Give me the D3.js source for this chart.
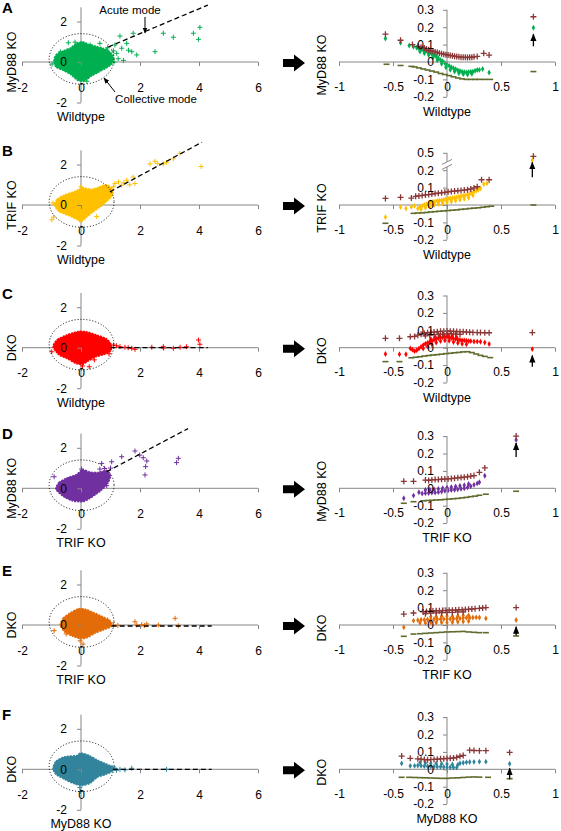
<!DOCTYPE html>
<html><head><meta charset="utf-8">
<script src="https://cdn.jsdelivr.net/npm/d3@7"></script>
<style>body{margin:0;background:#fff}text{font-family:"Liberation Sans",Arial,sans-serif}</style>
</head><body>
<script>
// ---------- labels ----------
const panelLetters = ["A","B","C","D","E","F"];
const leftXLabels = ["Wildtype","Wildtype","Wildtype","TRIF KO","TRIF KO","MyD88 KO"];
const yLabels = ["MyD88 KO","TRIF KO","DKO","MyD88 KO","DKO","DKO"];
const seriesColors = ["#00B050","#FFC000","#FF0000","#7030A0","#E36C09","#31849B"];
const upperColor = "#8B3636", lowerColor = "#5E6B2C";
const leftXTicks = [-2,0,2,4,6], leftYTicks = [-2,0,2];
const rightXTicks = [-1,-0.5,0,0.5,1];
const rightYTicks = [-0.2,-0.1,0,0.1,0.2,0.3];
const rightYTicksB = [-0.2,-0.1,0,0.1,0.2,0.5];

// ---------- left panels: dense core outline + individual outliers ----------
const blobA = [[-0.92,0.05],[-0.85,0.35],[-0.6,0.55],[-0.35,0.7],[-0.15,0.92],[0.05,1.0],[0.25,0.88],[0.5,0.78],[0.75,0.68],[0.98,0.5],[1.1,0.2],[1.05,-0.1],[0.85,-0.3],[0.6,-0.5],[0.35,-0.7],[0.1,-0.95],[-0.12,-0.9],[-0.35,-0.62],[-0.6,-0.42],[-0.85,-0.25]];
const blobB = [[-0.9,0.0],[-0.8,0.3],[-0.55,0.5],[-0.2,0.68],[0.05,0.85],[0.35,0.78],[0.6,0.88],[0.85,1.0],[1.08,0.8],[1.05,0.45],[0.85,0.15],[0.65,-0.1],[0.4,-0.35],[0.18,-0.62],[0.0,-0.82],[-0.18,-0.68],[-0.45,-0.5],[-0.75,-0.32]];
const blobC = [[-0.95,0.05],[-0.8,0.4],[-0.5,0.62],[-0.1,0.8],[0.2,0.78],[0.55,0.62],[0.85,0.45],[1.03,0.15],[1.0,-0.18],[0.75,-0.35],[0.5,-0.45],[0.22,-0.68],[0.05,-0.82],[-0.18,-0.78],[-0.45,-0.55],[-0.75,-0.35]];
const blobD = [[-0.85,-0.05],[-0.75,0.28],[-0.5,0.5],[-0.15,0.68],[0.05,0.92],[0.3,0.8],[0.55,0.78],[0.88,0.88],[1.0,0.6],[0.9,0.22],[0.7,-0.08],[0.5,-0.3],[0.28,-0.52],[0.05,-0.66],[-0.28,-0.62],[-0.6,-0.4]];
const blobE = [[-0.7,0.0],[-0.6,0.35],[-0.38,0.58],[-0.1,0.8],[0.15,0.78],[0.42,0.62],[0.75,0.4],[1.0,0.18],[1.03,-0.08],[0.75,-0.25],[0.48,-0.4],[0.22,-0.62],[0.0,-0.68],[-0.28,-0.56],[-0.55,-0.35]];
const blobF = [[-0.95,0.05],[-0.85,0.4],[-0.55,0.62],[-0.15,0.68],[0.0,0.8],[0.28,0.68],[0.55,0.46],[0.8,0.3],[1.05,0.14],[1.1,-0.06],[0.85,-0.25],[0.55,-0.4],[0.32,-0.68],[0.05,-0.8],[-0.22,-0.72],[-0.55,-0.5],[-0.85,-0.25]];

const outA = [[-0.43,0.95],[0.31,0.84],[0.87,0.59],[1.15,0.84],[1.21,0.43],[1.38,0.68],[1.55,0.92],[1.72,0.51],[1.77,1.42],[1.89,0.35],[2.51,0.51],[2.79,1.42],[3.13,1.22],[3.81,1.42],[3.98,1.12],[4.03,1.71],[1.32,1.28],[0.64,0.92],[1.04,0.33],[1.26,0.16],[1.44,0.08],[1.61,0.58],[-0.98,-0.1],[0.9,0.7],[1.1,0.55],[-0.7,0.5],[0.2,-0.95],[-0.2,0.98],[1.12,0.0]];
const outB = [[-0.99,-0.73],[-0.93,-0.6],[1.15,1.06],[1.27,1.14],[1.38,0.98],[1.77,1.38],[1.83,1.06],[1.55,1.22],[2.34,2.03],[2.51,2.16],[2.79,2.03],[2.9,2.11],[3.13,2.28],[3.35,2.55],[4.07,1.9],[0.53,-0.57],[1.1,0.9],[1.45,1.1],[1.65,1.0],[2.6,2.05],[-0.95,0.1],[0.0,0.9]];
const outC = [[-0.99,-0.2],[1.1,0.13],[1.32,0.05],[1.49,0.02],[1.72,-0.03],[1.83,-0.08],[2.4,0.02],[2.79,0.05],[3.13,-0.03],[3.36,0.02],[3.58,0.05],[3.98,0.38],[4.03,0.17],[0.0,-0.5],[0.28,-0.94],[1.2,0.1],[1.6,0.0],[2.8,-0.02],[0.05,-0.9],[0.45,-0.6],[0.95,-0.3]];
const outD = [[-0.91,0.57],[0.02,0.95],[0.7,1.23],[1.04,1.31],[0.64,0.95],[0.87,0.13],[1.38,1.56],[1.83,1.84],[1.99,1.64],[2.11,1.51],[2.23,1.35],[2.19,1.07],[2.17,0.66],[3.24,1.27],[3.3,1.48],[0.8,0.98],[1.0,1.0],[0.75,0.4]];
const outE = [[-0.91,-0.28],[-0.5,-0.44],[-0.03,-0.78],[0.07,-0.94],[1.1,0.0],[1.25,-0.02],[1.83,0.16],[1.89,0.0],[2.06,0.02],[2.15,-0.03],[2.23,0.05],[2.62,0.0],[3.19,0.33],[3.3,-0.04],[1.0,0.1],[0.9,0.25]];
const outF = [[1.15,0.05],[1.32,0.0],[1.49,-0.03],[1.72,0.05],[2.9,0.0],[-0.02,-1.1],[-0.04,-0.9],[1.05,0.1],[1.2,-0.05],[0.7,0.2]];

const dashA = [[0.92,0.74],[4.3,2.81]];
const dashB = [[0.98,0.65],[4.1,3.1]];
const dashC = [[1.0,0.0],[4.3,0.0]];
const dashD = [[0.87,0.82],[3.63,2.95]];
const dashE = [[1.04,-0.05],[4.43,-0.05]];
const dashF = [[1.08,0.0],[4.43,0.0]];

// ---------- right panels: three series each ----------
const upperA = [[-0.57,0.16],[-0.43,0.125],[-0.32,0.1],[-0.27,0.09],[-0.24,0.085],[-0.21,0.08],[-0.19,0.075],[-0.17,0.07],[-0.15,0.065],[-0.13,0.062],[-0.11,0.058],[-0.09,0.055],[-0.07,0.05],[-0.05,0.048],[-0.03,0.045],[-0.01,0.042],[0.01,0.04],[0.03,0.038],[0.05,0.036],[0.07,0.033],[0.09,0.031],[0.11,0.03],[0.13,0.028],[0.15,0.027],[0.17,0.027],[0.19,0.026],[0.21,0.028],[0.23,0.027],[0.25,0.03],[0.28,0.032],[0.34,0.05],[0.39,0.04],[0.8,0.26]];
const midA = [[-0.57,0.135],[-0.43,0.11],[-0.35,0.095],[-0.31,0.088],[-0.28,0.082],[-0.26,0.078],[-0.24,0.074],[-0.22,0.068],[-0.2,0.062],[-0.18,0.058],[-0.16,0.052],[-0.14,0.046],[-0.12,0.04],[-0.1,0.032],[-0.08,0.022],[-0.06,0.012],[-0.04,0.004],[-0.02,-0.006],[0,-0.014],[0.02,-0.022],[0.04,-0.03],[0.06,-0.036],[0.08,-0.042],[0.1,-0.048],[0.12,-0.052],[0.14,-0.056],[0.16,-0.058],[0.18,-0.06],[0.2,-0.058],[0.22,-0.056],[0.24,-0.055],[0.26,-0.05],[0.28,-0.046],[0.3,-0.045],[0.33,-0.04],[0.39,-0.06],
  [-0.25,0.06],[-0.21,0.05],[-0.17,0.04],[-0.13,0.025],[-0.09,0.01],[-0.05,-0.01],[-0.01,-0.03],[0.03,-0.045],[0.07,-0.055],[0.11,-0.065],[0.15,-0.07],[0.19,-0.072],[0.23,-0.068],[0.8,0.197]];
const lowerA = [[-0.56,-0.013],[-0.43,-0.02],[-0.33,-0.025],[-0.3,-0.028],[-0.26,-0.034],[-0.22,-0.04],[-0.18,-0.046],[-0.14,-0.052],[-0.1,-0.058],[-0.06,-0.066],[-0.02,-0.072],[0.02,-0.078],[0.06,-0.085],[0.1,-0.092],[0.14,-0.097],[0.18,-0.1],[0.22,-0.1],[0.26,-0.1],[0.3,-0.1],[0.35,-0.1],[0.4,-0.1],[0.8,-0.055]];

const upperB = [[-0.57,0.038],[-0.43,0.044],[-0.33,0.04],[-0.29,0.05],[-0.26,0.052],[-0.23,0.055],[-0.2,0.058],[-0.17,0.06],[-0.14,0.063],[-0.11,0.066],[-0.08,0.068],[-0.05,0.07],[-0.02,0.073],[0.01,0.076],[0.04,0.078],[0.07,0.08],[0.1,0.082],[0.13,0.084],[0.16,0.086],[0.19,0.088],[0.22,0.092],[0.25,0.098],[0.28,0.105],[0.32,0.145],[0.39,0.145],[0.8,0.44]];
const midB = [[-0.57,-0.07],[-0.43,-0.012],[-0.38,-0.02],[-0.33,-0.01],[-0.3,-0.005],[-0.27,-0.02],[-0.25,-0.01],[-0.23,-0.005],[-0.21,0.0],[-0.19,0.004],[-0.17,0.01],[-0.15,0.014],[-0.13,0.018],[-0.11,0.02],[-0.09,0.024],[-0.07,0.026],[-0.05,0.028],[-0.03,0.03],[-0.01,0.033],[0.01,0.036],[0.03,0.038],[0.05,0.04],[0.07,0.042],[0.09,0.045],[0.11,0.048],[0.13,0.05],[0.15,0.053],[0.17,0.056],[0.19,0.06],[0.21,0.064],[0.23,0.07],[0.25,0.076],[0.27,0.082],[0.29,0.088],[0.31,0.095],[0.34,0.12],[0.37,0.125],
  [-0.24,-0.025],[-0.2,-0.016],[-0.16,-0.008],[-0.12,0.0],[-0.08,0.006],[-0.04,0.01],[0.0,0.015],[0.04,0.02],[0.08,0.025],[0.12,0.03],[0.16,0.035],[0.2,0.042],[0.24,0.055],[0.79,0.37]];
const lowerB = [[-0.57,-0.105],[-0.31,-0.048],[-0.27,-0.046],[-0.23,-0.045],[-0.19,-0.043],[-0.15,-0.04],[-0.11,-0.038],[-0.07,-0.036],[-0.03,-0.034],[0.01,-0.032],[0.05,-0.03],[0.09,-0.028],[0.13,-0.025],[0.17,-0.023],[0.21,-0.02],[0.25,-0.018],[0.29,-0.016],[0.33,-0.013],[0.37,-0.01],[0.41,-0.007],[0.8,0.0]];

const upperC = [[-0.57,0.054],[-0.44,0.054],[-0.34,0.063],[-0.3,0.065],[-0.27,0.072],[-0.24,0.078],[-0.21,0.082],[-0.18,0.086],[-0.15,0.088],[-0.12,0.09],[-0.09,0.092],[-0.06,0.094],[-0.03,0.095],[0.0,0.096],[0.03,0.095],[0.06,0.094],[0.09,0.093],[0.12,0.092],[0.15,0.091],[0.18,0.09],[0.21,0.089],[0.24,0.088],[0.28,0.087],[0.31,0.087],[0.35,0.086],[0.39,0.086],
  [-0.2,0.068],[-0.16,0.072],[-0.12,0.075],[-0.08,0.077],[-0.04,0.078],[0.0,0.08],[0.04,0.08],[0.08,0.078],[0.12,0.077],[0.79,0.087]];
const midC = [[-0.57,-0.036],[-0.44,-0.038],[-0.38,-0.038],[-0.34,-0.004],[-0.32,-0.012],[-0.3,-0.02],[-0.28,-0.015],[-0.26,-0.005],[-0.24,0.005],[-0.22,0.015],[-0.2,0.022],[-0.18,0.028],[-0.16,0.034],[-0.14,0.04],[-0.12,0.046],[-0.1,0.05],[-0.08,0.054],[-0.06,0.058],[-0.04,0.06],[-0.02,0.062],[0,0.063],[0.02,0.06],[0.04,0.056],[0.06,0.052],[0.08,0.05],[0.1,0.046],[0.12,0.044],[0.14,0.042],[0.16,0.042],[0.18,0.04],[0.2,0.038],[0.22,0.038],[0.25,0.036],[0.28,0.035],[0.31,0.034],[0.35,0.03],[0.39,0.021],
  [-0.22,-0.005],[-0.18,0.008],[-0.14,0.02],[-0.1,0.03],[-0.06,0.038],[-0.02,0.042],[0.02,0.04],[0.06,0.033],[0.1,0.027],[0.14,0.022],[0.18,0.02],
  [-0.15,0.05],[-0.11,0.06],[-0.07,0.068],[-0.03,0.075],[0.01,0.074],[0.05,0.068],[0.09,0.06],[0.79,-0.008]];
const lowerC = [[-0.57,-0.08],[-0.44,-0.08],[-0.33,-0.058],[-0.29,-0.055],[-0.25,-0.052],[-0.21,-0.048],[-0.17,-0.045],[-0.13,-0.042],[-0.09,-0.04],[-0.05,-0.037],[-0.01,-0.034],[0.03,-0.032],[0.07,-0.029],[0.11,-0.027],[0.15,-0.024],[0.19,-0.023],[0.23,-0.028],[0.27,-0.036],[0.31,-0.044],[0.35,-0.05],[0.4,-0.057]];

const upperD = [[-0.4,0.04],[-0.31,0.04],[-0.2,0.047],[-0.17,0.045],[-0.14,0.048],[-0.11,0.05],[-0.08,0.05],[-0.05,0.052],[-0.02,0.053],[0.01,0.054],[0.04,0.056],[0.07,0.058],[0.1,0.06],[0.13,0.062],[0.16,0.064],[0.19,0.066],[0.22,0.07],[0.25,0.073],[0.3,0.092],[0.35,0.117],[0.64,0.3]];
const midD = [[-0.4,-0.057],[-0.31,-0.042],[-0.26,-0.023],[-0.23,-0.03],[-0.2,-0.028],[-0.17,-0.027],[-0.14,-0.025],[-0.11,-0.024],[-0.08,-0.022],[-0.05,-0.018],[-0.02,-0.014],[0.01,-0.012],[0.04,-0.01],[0.07,-0.008],[0.1,-0.006],[0.13,-0.003],[0.16,0.0],[0.19,0.005],[0.22,0.012],[0.25,0.02],[0.28,0.028],[0.3,0.035],[0.35,0.072],
  [-0.2,-0.01],[-0.16,-0.008],[-0.12,-0.006],[-0.08,-0.004],[-0.04,0.0],[0.0,0.004],[0.04,0.007],[0.08,0.01],[0.12,0.014],[0.16,0.018],[0.2,0.025],[0.64,0.278]];
const lowerD = [[-0.4,-0.086],[-0.31,-0.077],[-0.22,-0.072],[-0.18,-0.07],[-0.14,-0.069],[-0.1,-0.067],[-0.06,-0.066],[-0.02,-0.064],[0.02,-0.062],[0.06,-0.06],[0.1,-0.058],[0.14,-0.055],[0.18,-0.052],[0.22,-0.048],[0.26,-0.045],[0.3,-0.04],[0.36,-0.034],[0.64,-0.017]];

const upperE = [[-0.4,0.063],[-0.31,0.069],[-0.22,0.075],[-0.19,0.077],[-0.16,0.08],[-0.13,0.08],[-0.1,0.082],[-0.07,0.082],[-0.04,0.083],[-0.01,0.084],[0.02,0.085],[0.05,0.085],[0.08,0.086],[0.11,0.087],[0.14,0.088],[0.17,0.089],[0.2,0.09],[0.23,0.092],[0.26,0.094],[0.3,0.096],[0.33,0.098],[0.36,0.1],
  [-0.2,0.065],[-0.15,0.068],[-0.1,0.07],[-0.05,0.071],[0.0,0.072],[0.05,0.073],[0.1,0.075],[0.15,0.076],[0.64,0.1]];
const midE = [[-0.4,-0.013],[-0.31,0.025],[-0.27,0.028],[-0.24,0.03],[-0.21,0.03],[-0.18,0.032],[-0.15,0.032],[-0.12,0.033],[-0.09,0.033],[-0.06,0.034],[-0.03,0.034],[0,0.035],[0.03,0.035],[0.06,0.036],[0.09,0.037],[0.12,0.038],[0.15,0.04],[0.18,0.041],[0.21,0.042],[0.24,0.043],[0.27,0.044],[0.3,0.043],[0.36,0.038],
  [-0.25,0.012],[-0.2,0.012],[-0.15,0.014],[-0.1,0.014],[-0.05,0.015],[0.0,0.015],[0.05,0.016],[0.1,0.018],[0.15,0.02],[0.2,0.022],
  [-0.15,0.047],[-0.1,0.048],[-0.05,0.05],[0.0,0.05],[0.05,0.05],[0.1,0.052],[0.15,0.054],[0.2,0.055],[0.64,0.029]];
const lowerE = [[-0.4,-0.065],[-0.31,-0.052],[-0.25,-0.05],[-0.2,-0.048],[-0.15,-0.046],[-0.1,-0.044],[-0.05,-0.042],[0,-0.04],[0.05,-0.039],[0.1,-0.038],[0.15,-0.037],[0.2,-0.04],[0.25,-0.042],[0.3,-0.044],[0.36,-0.044],[0.64,-0.063]];

const upperF = [[-0.42,0.076],[-0.34,0.063],[-0.27,0.06],[-0.24,0.058],[-0.21,0.056],[-0.18,0.055],[-0.15,0.056],[-0.12,0.057],[-0.09,0.058],[-0.06,0.06],[-0.03,0.061],[0,0.062],[0.03,0.063],[0.06,0.065],[0.09,0.068],[0.12,0.075],[0.15,0.08],[0.21,0.11],[0.25,0.108],[0.3,0.107],[0.36,0.107],[0.58,0.097]];
const midF = [[-0.42,0.034],[-0.34,0.02],[-0.3,0.02],[-0.27,0.022],[-0.24,0.02],[-0.21,0.018],[-0.18,0.018],[-0.15,0.016],[-0.12,0.015],[-0.09,0.015],[-0.06,0.014],[-0.03,0.013],[0,0.012],[0.03,0.012],[0.06,0.01],[0.09,0.01],[0.12,0.035],[0.15,0.038],[0.18,0.04],[0.21,0.042],[0.25,0.043],[0.3,0.044],[0.36,0.044],
  [-0.25,0.038],[-0.2,0.036],[-0.15,0.034],[-0.1,0.033],[-0.05,0.032],[0.0,0.03],[0.05,0.028],[0.1,0.026],[0.58,0.032]];
const lowerF = [[-0.42,-0.046],[-0.35,-0.046],[-0.3,-0.047],[-0.25,-0.048],[-0.2,-0.049],[-0.15,-0.05],[-0.1,-0.051],[-0.05,-0.052],[0,-0.052],[0.05,-0.05],[0.1,-0.049],[0.15,-0.047],[0.2,-0.045],[0.25,-0.044],[0.3,-0.045],[0.38,-0.046],[0.58,-0.054]];

// arrows marking the outlier gene: [x, fromY, toY]
const markArrows = [[0.8,0.09,0.16],[0.79,0.16,0.335],[0.79,-0.11,-0.045],[0.64,0.18,0.26],[0.64,-0.06,-0.01],[0.58,-0.058,0.006]];

const blobs = [blobA,blobB,blobC,blobD,blobE,blobF];
const outs = [outA,outB,outC,outD,outE,outF];
const dashes = [dashA,dashB,dashC,dashD,dashE,dashF];
const uppers = [upperA,upperB,upperC,upperD,upperE,upperF];
const mids = [midA,midB,midC,midD,midE,midF];
const lowers = [lowerA,lowerB,lowerC,lowerD,lowerE,lowerF];

// ---------- layout ----------
const W = 561, H = 831;
const rowBase = [62,205,347.7,488.3,625,769.3];
const axisColor = "#868686";
const svg = d3.select("body").append("svg").attr("width",W).attr("height",H);
const defs = svg.append("defs");
defs.append("marker").attr("id","ah").attr("viewBox","0 0 10 10").attr("refX",9).attr("refY",5)
  .attr("markerWidth",6).attr("markerHeight",6).attr("orient","auto-start-reverse")
  .append("path").attr("d","M0,1L10,5L0,9z").attr("fill","#000");

const xL = d3.scaleLinear().domain([-2,6]).range([22,258]);
const xR = d3.scaleLinear().domain([-1,1]).range([339,555]);
const plus = s => `M${-s},0H${s}M0,${-s}V${s}`;

rowBase.forEach((b,i) => {
  const yL = d3.scaleLinear().domain([-2,2]).range([b+40.5,b-40.5]);
  const yR = i===1
    ? d3.scaleLinear().domain([-0.2,0.2,0.5]).range([b+34.8,b-34.8,b-52.2])
    : d3.scaleLinear().domain([-0.2,0.3]).range([b+34.8,b-52.2]);
  const col = seriesColors[i];
  const g = svg.append("g");

  // ----- left panel -----
  g.append("text").attr("x",2).attr("y",b-49).attr("font-size",15).attr("font-weight","bold").text(panelLetters[i]);
  g.append("line").attr("x1",xL(-2)).attr("x2",xL(6)).attr("y1",yL(0)).attr("y2",yL(0)).attr("stroke",axisColor);
  g.append("line").attr("x1",xL(0)).attr("x2",xL(0)).attr("y1",yL(-2)).attr("y2",yL(2.7)).attr("stroke",axisColor);
  g.append("path").datum(blobs[i]).attr("d",d3.line().x(d=>xL(d[0])).y(d=>yL(d[1])).curve(d3.curveCardinalClosed.tension(0.3)))
    .attr("fill",col).attr("stroke",col).attr("stroke-width",1.5).attr("stroke-dasharray","2,1");
  g.selectAll(".o").data(outs[i]).join("path").attr("transform",d=>`translate(${xL(d[0])},${yL(d[1])})`)
    .attr("d",plus(2.5)).attr("stroke",col).attr("stroke-width",1).attr("fill","none");
  g.append("ellipse").attr("cx",xL(0.02)).attr("cy",yL(0.15)).attr("rx",xL(1.1)-xL(0)).attr("ry",yL(0)-yL(1.25))
    .attr("fill","none").attr("stroke","#000").attr("stroke-width",1).attr("stroke-dasharray","1,2");
  g.append("path").datum(dashes[i]).attr("d",d3.line().x(d=>xL(d[0])).y(d=>yL(d[1])))
    .attr("stroke","#000").attr("stroke-width",1.3).attr("stroke-dasharray","5,3").attr("fill","none");
  const ax = g.append("g").attr("transform",`translate(0,${yL(0)})`)
    .call(d3.axisBottom(xL).tickValues(leftXTicks).tickSize(4).tickPadding(17).tickFormat(d=>String(d)));
  const ay = g.append("g").attr("transform",`translate(${xL(0)},0)`)
    .call(d3.axisLeft(yL).tickValues(leftYTicks).tickSize(4).tickPadding(10).tickFormat(d=>String(d)));
  [ax,ay].forEach(a=>{a.select(".domain").remove();a.selectAll("line").attr("stroke",axisColor);
    a.selectAll("text").attr("font-size",12).attr("fill","#000").style("font-family","Liberation Sans, Arial, sans-serif");});
  g.append("text").attr("x",xL(0)).attr("y",b+59).attr("text-anchor","middle").attr("font-size",12.5).text(leftXLabels[i]);
  g.append("text").attr("transform",`translate(16,${b}) rotate(-90)`).attr("text-anchor","middle").attr("font-size",12.5).text(yLabels[i]);

  // ----- big arrow -----
  const ar = [[283,b-3],[294,b-3],[294,b-7.5],[305,b+1],[294,b+9.5],[294,b+5],[283,b+5]];
  g.append("path").attr("d",d3.line()(ar)+"Z").attr("fill","#000");

  // ----- right panel -----
  g.append("line").attr("x1",xR(-1)).attr("x2",xR(1)).attr("y1",yR(0)).attr("y2",yR(0)).attr("stroke",axisColor);
  g.append("line").attr("x1",xR(0)).attr("x2",xR(0)).attr("y1",yR(-0.2)).attr("y2",yR(i===1?0.5:0.3)).attr("stroke",axisColor);
  if (i===1) {
    const yb = yR(0.3);
    g.append("rect").attr("x",xR(0)-5).attr("y",yb-2.5).attr("width",10).attr("height",5).attr("fill","#fff");
    [-2.5,2.5].forEach(o=>g.append("line").attr("x1",xR(0)-5).attr("x2",xR(0)+5).attr("y1",yb+o+2.5).attr("y2",yb+o-2.5).attr("stroke",axisColor));
  }
  g.selectAll(".l").data(lowers[i]).join("line")
    .attr("x1",d=>xR(d[0])-3).attr("x2",d=>xR(d[0])+3).attr("y1",d=>yR(d[1])).attr("y2",d=>yR(d[1]))
    .attr("stroke",lowerColor).attr("stroke-width",1.6);
  g.selectAll(".m").data(mids[i]).join("path").attr("transform",d=>`translate(${xR(d[0])},${yR(d[1])})`)
    .attr("d",d3.symbol(d3.symbolDiamond,10)).attr("fill",col);
  g.selectAll(".u").data(uppers[i]).join("path").attr("transform",d=>`translate(${xR(d[0])},${yR(d[1])})`)
    .attr("d",plus(3)).attr("stroke",upperColor).attr("stroke-width",1.3).attr("fill","none");
  const ma = markArrows[i];
  g.append("line").attr("x1",xR(ma[0])).attr("x2",xR(ma[0])).attr("y1",yR(ma[1])).attr("y2",yR(ma[2]))
    .attr("stroke","#000").attr("stroke-width",1.3).attr("marker-end","url(#ah)");
  const bx = g.append("g").attr("transform",`translate(0,${yR(0)})`)
    .call(d3.axisBottom(xR).tickValues(rightXTicks).tickSize(4).tickPadding(16).tickFormat(d=>String(d)));
  const by = g.append("g").attr("transform",`translate(${xR(0)},0)`)
    .call(d3.axisLeft(yR).tickValues(i===1?rightYTicksB:rightYTicks).tickSize(4).tickPadding(9).tickFormat(d=>String(d)));
  [bx,by].forEach(a=>{a.select(".domain").remove();a.selectAll("line").attr("stroke",axisColor);
    a.selectAll("text").attr("font-size",12).attr("fill","#000").style("font-family","Liberation Sans, Arial, sans-serif");});
  g.append("text").attr("x",xR(0)).attr("y",b+54).attr("text-anchor","middle").attr("font-size",12.5).text(leftXLabels[i]);
  g.append("text").attr("transform",`translate(326,${b+3}) rotate(-90)`).attr("text-anchor","middle").attr("font-size",12.5).text(yLabels[i]);
});

// ----- annotations in panel A -----
const ann = svg.append("g");
ann.append("text").attr("x",130).attr("y",14).attr("text-anchor","middle").attr("font-size",11.5).text("Acute mode");
ann.append("line").attr("x1",145).attr("y1",17).attr("x2",145).attr("y2",33).attr("stroke","#000").attr("marker-end","url(#ah)");
ann.append("text").attr("x",156).attr("y",103).attr("text-anchor","middle").attr("font-size",11.5).text("Collective mode");
ann.append("line").attr("x1",115).attr("y1",92).attr("x2",104).attr("y2",78).attr("stroke","#000").attr("marker-end","url(#ah)");
</script>
</body></html>
